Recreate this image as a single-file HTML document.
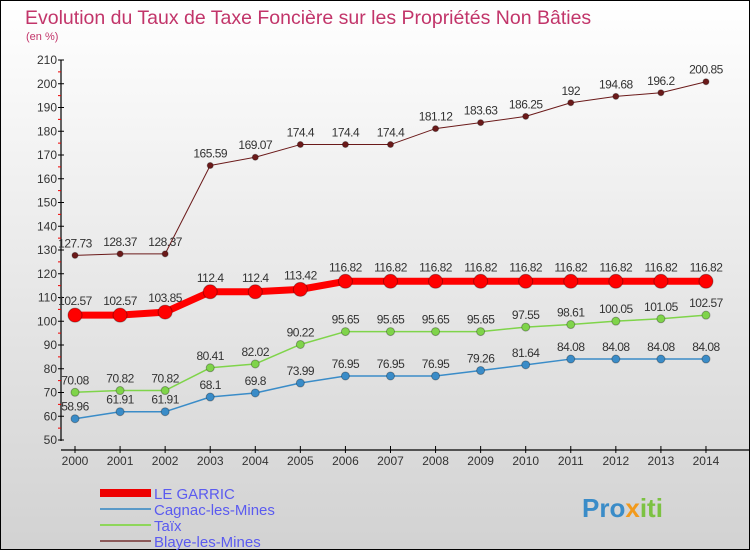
<!DOCTYPE html>
<html><head><meta charset="utf-8"><style>
body{margin:0;width:750px;height:550px;overflow:hidden;font-family:"Liberation Sans",sans-serif}
#c{position:absolute;left:0;top:0;width:748px;height:548px;border:1px solid #000;background:linear-gradient(#fff,#d2d2d2)}
</style></head><body>
<div id="c">
<svg id="s" width="750" height="550" style="position:absolute;left:-1px;top:-1px"></svg>
</div>
<script>
const years=[2000,2001,2002,2003,2004,2005,2006,2007,2008,2009,2010,2011,2012,2013,2014];
const garric=[102.57,102.57,103.85,112.4,112.4,113.42,116.82,116.82,116.82,116.82,116.82,116.82,116.82,116.82,116.82];
const cagnac=[58.96,61.91,61.91,68.1,69.8,73.99,76.95,76.95,76.95,79.26,81.64,84.08,84.08,84.08,84.08];
const taix=[70.08,70.82,70.82,80.41,82.02,90.22,95.65,95.65,95.65,95.65,97.55,98.61,100.05,101.05,102.57];
const blaye=[127.73,128.37,128.37,165.59,169.07,174.4,174.4,174.4,181.12,183.63,186.25,192,194.68,196.2,200.85];
const yTicks=[50,60,70,80,90,100,110,120,130,140,150,160,170,180,190,200,210];
const NS="http://www.w3.org/2000/svg",s=document.getElementById('s');
const X=i=>75+i*45.07, Y=v=>440-(v-50)*2.375;
function el(t,a,txt){const e=document.createElementNS(NS,t);for(const k in a)e.setAttribute(k,a[k]);if(txt!==undefined)e.textContent=txt;s.appendChild(e);return e;}
let e;
e=el('text',{x:25,y:24,fill:'#c2356a','font-size':19.5},'Evolution du Taux de Taxe Foncière sur les Propriétés Non Bâties');


e=el('text',{x:26,y:40,fill:'#c2356a','font-size':11},'(en %)');


e=el('line',{x1:61,y1:60,x2:61,y2:441,stroke:'#000','stroke-width':1.2});


yTicks.forEach((v,i)=>{
 e=el('line',{x1:58,y1:Y(v),x2:64,y2:Y(v),stroke:'#000'});
 
 
 if(i<yTicks.length-1){e=el('line',{x1:58,y1:Y(v+5),x2:61,y2:Y(v+5),stroke:'#e00'});
 
 }
 e=el('text',{x:57,y:Y(v)+4,'text-anchor':'end','font-size':12,fill:'#333'},String(v));
 
 
});
e=el('line',{x1:61,y1:450,x2:750,y2:450,stroke:'#000','stroke-width':1.2});


years.forEach((y,i)=>{
 e=el('line',{x1:X(i),y1:446,x2:X(i),y2:453,stroke:'#000'});
 
 
 e=el('text',{x:X(i),y:465,'text-anchor':'middle','font-size':12,fill:'#333'},String(y));
 
 
});
function series(d,color,w,r,name,off){
 e=el('polyline',{points:d.map((v,i)=>X(i)+','+Y(v)).join(' '),fill:'none',stroke:color,'stroke-width':w,'stroke-linejoin':'round'});
 
 
 d.forEach((v,i)=>{
  e=el('circle',{cx:X(i),cy:Y(v),r:r,fill:color,stroke:'rgba(0,0,0,0.3)','stroke-width':1});
  
  
  e=el('text',{x:X(i),y:Y(v)-off,'text-anchor':'middle','font-size':12,fill:'#333','letter-spacing':'-0.5'},String(v));
  
  
 });
}
series(cagnac,'#3a8cc8',1.5,4,'cagnac',8);
series(taix,'#7fd44a',1.5,4,'taix',8);
series(blaye,'#6b1a1a',1,3,'blaye',8);
series(garric,'#f00',7,7,'le-garric',10);
const leg=[['LE GARRIC','#e00',8],['Cagnac-les-Mines','#5b9ac8',2],['Taïx','#8ed65a',2],['Blaye-les-Mines','#8c5a5a',2]];
leg.forEach((l,i)=>{
 const y=493+i*16;
 e=el('line',{x1:100,y1:y,x2:151,y2:y,stroke:l[1],'stroke-width':l[2]});
 
 
 e=el('text',{x:154,y:y+6,'font-size':15,fill:'#5b5bf0'},l[0]);
 
 
});
e=el('text',{x:582,y:517,'font-size':26,'font-weight':'bold',fill:'#3a8cc8'});


e.innerHTML='Pro<tspan fill="#f29a1c">x</tspan><tspan fill="#7cc242">iti</tspan>';
</script>
</body></html>
